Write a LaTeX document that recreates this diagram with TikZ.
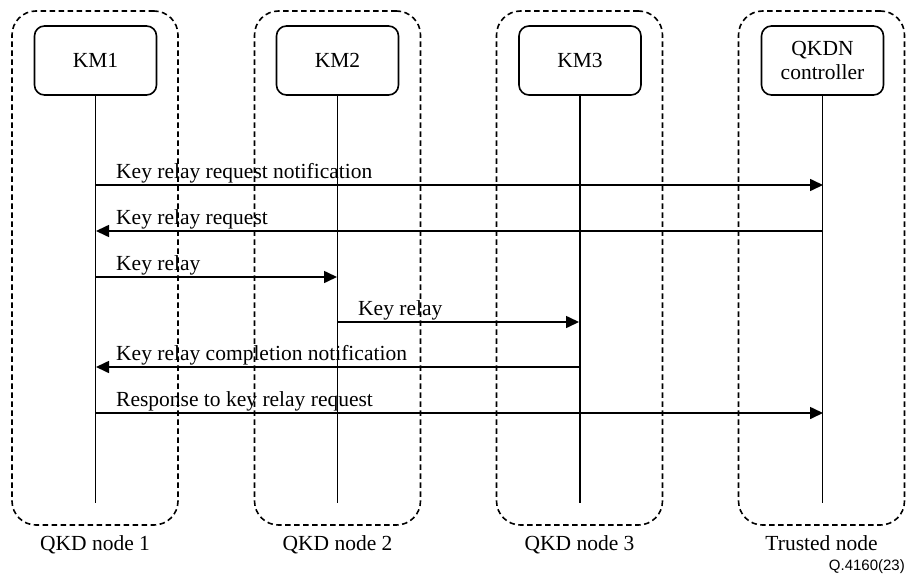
\documentclass[tikz,border=0pt]{standalone}
\usepackage{fontspec}
\setmainfont{Liberation Serif}
\newfontfamily\labsans{Liberation Sans}
\usetikzlibrary{arrows.meta}
\begin{document}
\begin{tikzpicture}[x=1pt,y=-1pt,
  group/.style={draw,dash pattern=on 5.5pt off 3.5pt,line width=1.6pt,rounded corners=24pt,minimum width=166pt,minimum height=514pt,inner sep=0pt},
  km/.style={draw,line width=1.6pt,rounded corners=10pt,minimum width=122pt,minimum height=69pt,align=center,font=\fontsize{21.5}{24}\selectfont,inner sep=0pt},
  life/.style={line width=1.6pt},
  msg/.style={line width=1.6pt,-{Triangle[length=13pt,width=12pt]}},
  lab/.style={anchor=base west,font=\fontsize{21.5}{24}\selectfont,inner sep=0pt},
  grouplabel/.style={anchor=base,font=\fontsize{21.5}{24}\selectfont,inner sep=0pt}]
\useasboundingbox (0,0) rectangle (909,575);
% groups
\node[group] (g1) at (95,268) {};
\node[group] (g2) at (337.5,268) {};
\node[group] (g3) at (579.5,268) {};
\node[group] (g4) at (821.5,268) {};
% managers
\node[km] (KM1) at (95.5,60.5) {KM1};
\node[km] (KM2) at (337.5,60.5) {KM2};
\node[km] (KM3) at (580,60.5) {KM3};
\node[km] (QC) at (822.5,60.5) {QKDN\\controller};
% lifeline ends
\coordinate (e1) at (96,503);
\coordinate (e2) at (337,503);
\coordinate (e3) at (579,503);
\coordinate (e4) at (823,503);
\draw[life] (KM1.south) -- (KM1.south |- e1);
\draw[life] (KM2.south) -- (KM2.south |- e2);
\draw[life] (KM3.south) -- (KM3.south |- e3);
\draw[life] (QC.south) -- (QC.south |- e4);
% message points
\coordinate (a1) at (96,185);  \coordinate (a4) at (823,185);
\coordinate (b1) at (96,231);  \coordinate (b4) at (823,231);
\coordinate (c1) at (96,277);  \coordinate (c2) at (337,277);
\coordinate (d2) at (337,322); \coordinate (d3) at (579,322);
\coordinate (f1) at (96,367);  \coordinate (f3) at (579,367);
\coordinate (h1) at (96,413);  \coordinate (h4) at (823,413);
\draw[msg] (a1) -- (a4);
\draw[msg] (b4) -- (b1);
\draw[msg] (c1) -- (c2);
\draw[msg] (d2) -- (d3);
\draw[msg] (f3) -- (f1);
\draw[msg] (h1) -- (h4);
\node[lab] (t1) at (116,178) {Key relay request notification};
\node[lab] (t2) at (116,224) {Key relay request};
\node[lab] (t3) at (116,270) {Key relay};
\node[lab] (t4) at (358,315) {Key relay};
\node[lab] (t5) at (116,360) {Key relay completion notification};
\node[lab] (t6) at (116,406) {Response to key relay request};
% captions
\node[grouplabel] (c1l) at (95,550) {QKD node 1};
\node[grouplabel] (c2l) at (337.5,550) {QKD node 2};
\node[grouplabel] (c3l) at (579.5,550) {QKD node 3};
\node[grouplabel] (c4l) at (821.5,550) {Trusted node};
\node[anchor=base east,inner sep=0pt,font=\labsans\fontsize{15}{17}\selectfont] (ref) at (905,570) {Q.4160(23)};
\end{tikzpicture}
\end{document}
